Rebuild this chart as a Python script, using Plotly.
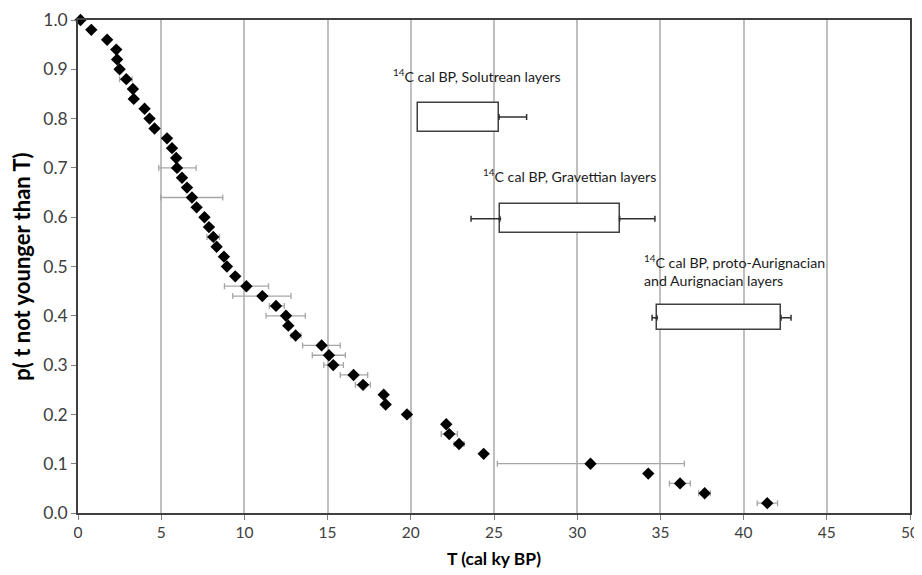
import plotly.graph_objects as go

# ---- data ----
p_values = [1.00, 0.98, 0.96, 0.94, 0.92, 0.90, 0.88, 0.86, 0.84, 0.82,
            0.80, 0.78, 0.76, 0.74, 0.72, 0.70, 0.68, 0.66, 0.64, 0.62,
            0.60, 0.58, 0.56, 0.54, 0.52, 0.50, 0.48, 0.46, 0.44, 0.42,
            0.40, 0.38, 0.36, 0.34, 0.32, 0.30, 0.28, 0.26, 0.24, 0.22,
            0.20, 0.18, 0.16, 0.14, 0.12, 0.10, 0.08, 0.06, 0.04, 0.02]
T_values = [0.15, 0.8, 1.75, 2.3, 2.35, 2.5, 2.9, 3.3, 3.35, 4.0,
            4.3, 4.6, 5.35, 5.65, 5.9, 5.95, 6.25, 6.55, 6.85, 7.13,
            7.6, 7.87, 8.13, 8.33, 8.77, 8.95, 9.45, 10.12, 11.08, 11.9,
            12.5, 12.64, 13.08, 14.64, 15.08, 15.34, 16.56, 17.13, 18.37, 18.49,
            19.77, 22.13, 22.31, 22.9, 24.38, 30.8, 34.27, 36.18, 37.66, 41.42]
# error ranges (low, high) for points that have them, keyed by p
err_p    = [0.88, 0.70, 0.64, 0.56, 0.46, 0.44, 0.42, 0.40, 0.36, 0.34,
            0.32, 0.30, 0.28, 0.26, 0.16, 0.14, 0.10, 0.06, 0.04, 0.02]
err_low  = [2.5, 4.85, 4.97, 7.75, 8.8, 9.3, 11.5, 11.3, 12.8, 13.5,
            14.08, 14.77, 15.76, 16.67, 21.83, 22.6, 25.2, 35.54, 37.3, 40.82]
err_high = [3.25, 7.1, 8.7, 8.5, 11.45, 12.8, 12.4, 13.66, 13.4, 15.76,
            16.07, 15.95, 17.41, 17.57, 22.8, 23.2, 36.44, 36.8, 38.0, 42.04]

# 14C calibrated ranges (boxes with whiskers)
box_labels   = ["<sup>14</sup>C cal BP, Solutrean layers",
                "<sup>14</sup>C cal BP, Gravettian layers",
                "<sup>14</sup>C cal BP, proto-Aurignacian<br>and Aurignacian layers"]
box_y        = [0.803, 0.597, 0.396]
box_height   = [0.059, 0.059, 0.050]
box_left     = [20.46, 25.35, 34.78]
box_right    = [25.30, 32.55, 42.25]
whisker_low  = [20.46, 23.62, 34.50]
whisker_high = [26.96, 34.67, 42.85]
label_x      = [18.78, 24.19, 33.90]
label_y      = [0.888, 0.685, 0.492]

x_ticks = [0, 5, 10, 15, 20, 25, 30, 35, 40, 45, 50]
y_ticks = [0.0, 0.1, 0.2, 0.3, 0.4, 0.5, 0.6, 0.7, 0.8, 0.9, 1.0]

# ---- derived error arrays ----
err_lookup = {pp: (lo, hi) for pp, lo, hi in zip(err_p, err_low, err_high)}
e_plus, e_minus = [], []
for pp, t in zip(p_values, T_values):
    if pp in err_lookup:
        lo, hi = err_lookup[pp]
        e_plus.append(hi - t)
        e_minus.append(t - lo)
    else:
        e_plus.append(0)
        e_minus.append(0)

FONT = "Lato"
fig = go.Figure()

# boxes
fig.add_trace(go.Bar(
    orientation="h",
    y=box_y,
    base=box_left,
    x=[r - l for l, r in zip(box_left, box_right)],
    width=box_height,
    marker=dict(color="white", line=dict(color="#404040", width=1.5)),
    hoverinfo="skip", showlegend=False,
))
# right whiskers
fig.add_trace(go.Scatter(
    x=box_right, y=box_y, mode="markers",
    marker=dict(size=2, color="#303030"),
    error_x=dict(type="data", symmetric=False,
                 array=[h - r for h, r in zip(whisker_high, box_right)],
                 arrayminus=[0 for _ in box_right],
                 color="#303030", thickness=1.5, width=3),
    showlegend=False, hoverinfo="skip",
))
# left whiskers (only where there is one)
lw_idx = [i for i in range(len(box_left)) if box_left[i] - whisker_low[i] > 0]
fig.add_trace(go.Scatter(
    x=[box_left[i] for i in lw_idx], y=[box_y[i] for i in lw_idx], mode="markers",
    marker=dict(size=3, color="#303030"),
    error_x=dict(type="data", symmetric=False,
                 array=[0 for _ in lw_idx],
                 arrayminus=[box_left[i] - whisker_low[i] for i in lw_idx],
                 color="#303030", thickness=1.5, width=3),
    showlegend=False, hoverinfo="skip",
))

# data points
fig.add_trace(go.Scatter(
    x=T_values, y=p_values, mode="markers",
    marker=dict(symbol="diamond", size=9.5, color="black"),
    error_x=dict(type="data", symmetric=False, array=e_plus, arrayminus=e_minus,
                 color="#a6a6a6", thickness=1.3, width=3),
    cliponaxis=False, showlegend=False,
))

for txt, lx, ly in zip(box_labels, label_x, label_y):
    fig.add_annotation(x=lx, y=ly, xref="x", yref="y", text=txt, showarrow=False,
                       xanchor="left", yanchor="middle", align="left",
                       font=dict(family=FONT, size=14.2, color="#1a1a1a"))

# page body has an 8px default margin, so the figure is sized to fit inside it
fig.update_layout(
    width=914, height=567,
    margin=dict(l=70, r=12, t=12, b=62, autoexpand=False),
    paper_bgcolor="white", plot_bgcolor="white",
    font=dict(family=FONT, size=15.5, color="#404040"),
    bargap=0,
)
fig.update_xaxes(
    range=[0, 50], tickvals=x_ticks, ticktext=[str(v) for v in x_ticks],
    automargin=False,
    tickfont=dict(family=FONT, size=15.5, color="#404040"),
    showgrid=True, gridcolor="#bfbfbf", gridwidth=1.5,
    showline=True, linecolor="#404040", linewidth=1.5, mirror=True,
    ticks="outside", ticklen=5, tickcolor="#808080",
    zeroline=False,
    title=dict(text="<b>T (cal ky BP)</b>", font=dict(family=FONT, size=17.5, color="black"), standoff=12),
)
fig.update_yaxes(
    range=[0, 1.0], tickvals=y_ticks, ticktext=[f"{v:.1f}" for v in y_ticks],
    automargin=False,
    tickfont=dict(family=FONT, size=17.5, color="#404040"),
    showgrid=False,
    showline=True, linecolor="#404040", linewidth=1.5, mirror=True,
    ticks="outside", ticklen=5, tickcolor="#808080",
    zeroline=False,
    title=dict(text="<b>p( t not younger than T)</b>", font=dict(family=FONT, size=22, color="black"), standoff=10),
)

fig.write_html("out.html")
